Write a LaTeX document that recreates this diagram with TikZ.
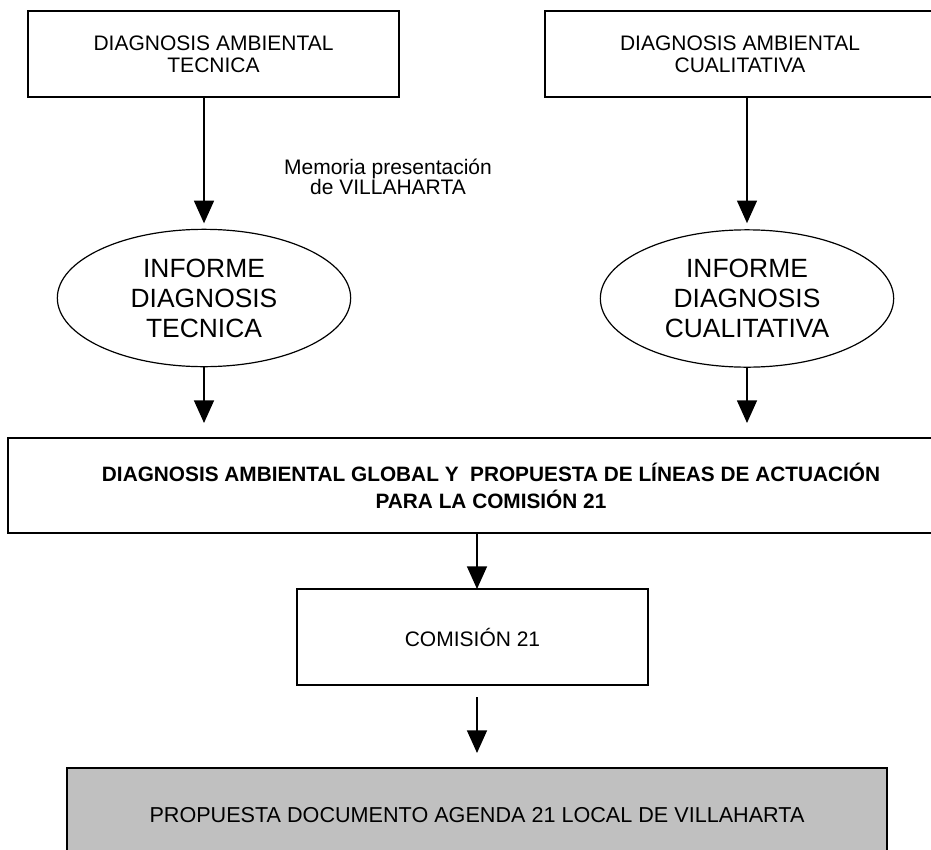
\documentclass[tikz,border=0pt]{standalone}
\usepackage{fontspec}
\setmainfont{Liberation Sans}
\usepackage{tikz}
\usetikzlibrary{shapes.geometric,arrows.meta}
\definecolor{gris}{RGB}{192,192,192}
\tikzstyle{caja}=[draw=black,line width=1.1pt,rectangle,align=center,inner sep=0pt,outer sep=0pt,font=\txt]
\tikzstyle{elipse}=[draw=black,line width=0.9pt,ellipse,align=center,inner sep=0pt,outer sep=0pt,minimum width=220pt,minimum height=103pt,font=\grande]
\tikzstyle{flecha}=[line width=1.1pt,-{Triangle[width=15pt,length=17pt]}]
\newcommand{\txt}{\fontsize{15.75}{16.5}\selectfont}
\newcommand{\grande}{\fontsize{19.8}{22.5}\selectfont}
\newcommand{\negra}{\fontsize{15.6}{20.25}\selectfont\bfseries}

\begin{document}
\begin{tikzpicture}[x=0.75pt,y=-0.75pt]
    \path[use as bounding box,clip] (0,0) rectangle (931,849);
    \node[caja,minimum width=278.25pt,minimum height=64.5pt] (tecnica) at (213.5,54) {DIAGNOSIS AMBIENTAL\\TECNICA};
    \node[caja,minimum width=292.5pt,minimum height=64.5pt] (cualitativa) at (740,54) {DIAGNOSIS AMBIENTAL\\CUALITATIVA};
    \node[font=\fontsize{15.75}{15}\selectfont,align=center,inner sep=0pt] (memoria) at (388,177) {Memoria presentación\\de VILLAHARTA};
    \node[elipse] (inftec) at (204,298) {INFORME\\DIAGNOSIS\\TECNICA};
    \node[elipse] (infcual) at (747,298.5) {INFORME\\DIAGNOSIS\\CUALITATIVA};
    \node[caja,font=\negra,minimum width=724.5pt,minimum height=71.25pt] (global) at (491,485.5) {DIAGNOSIS AMBIENTAL GLOBAL Y\ \ PROPUESTA DE LÍNEAS DE ACTUACIÓN\\PARA LA COMISIÓN 21};
    \node[caja,minimum width=263.25pt,minimum height=72pt] (comision) at (472.5,637) {COMISIÓN 21};
    \node[caja,fill=gris,font=\fontsize{16.2}{18}\selectfont,minimum width=615pt,minimum height=70.5pt] (agenda) at (477,815) {PROPUESTA DOCUMENTO AGENDA 21 LOCAL DE VILLAHARTA};

    \draw[flecha,shorten >=4.5pt] (tecnica.south -| inftec.north) -- (inftec.north);
    \draw[flecha,shorten >=5pt] (cualitativa.south -| infcual.north) -- (infcual.north);
    \draw[flecha,shorten >=11.25pt] (inftec.south) -- (inftec.south |- global.north);
    \draw[flecha,shorten >=11.25pt] (infcual.south) -- (infcual.south |- global.north);
    \draw[flecha] (global.south -| agenda.north) -- (comision.north -| agenda.north);
    \draw[flecha,shorten <=9pt,shorten >=11.25pt] (comision.south -| agenda.north) -- (agenda.north);
\end{tikzpicture}
\end{document}
